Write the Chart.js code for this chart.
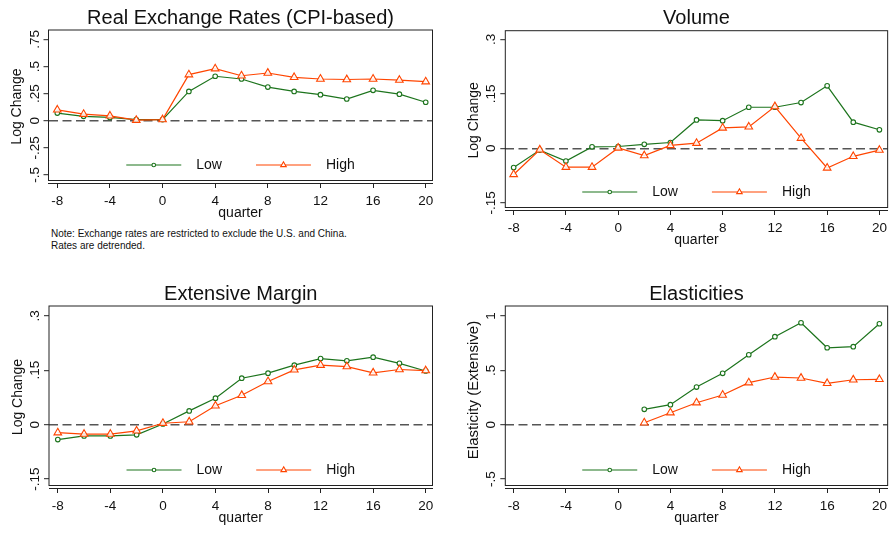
<!DOCTYPE html>
<html>
<head>
<meta charset="utf-8">
<script src="https://cdn.jsdelivr.net/npm/chart.js@4.4.1/dist/chart.umd.min.js"></script>
<style>
  html, body { margin: 0; padding: 0; background: #fff; }
  body { width: 892px; height: 533px; position: relative; overflow: hidden; font-family: 'Liberation Sans', Arial, sans-serif; }
  canvas { position: absolute; }
  #nota { position: absolute; left: 51px; top: 227.5px; font-size: 10px; line-height: 12px; color: #111; white-space: nowrap; }
</style>
</head>
<body>
<canvas id="cambio" style="left:0px;top:0px" width="446" height="226"></canvas>
<canvas id="volume" style="left:446px;top:0px" width="446" height="266"></canvas>
<canvas id="margem" style="left:0px;top:266px" width="446" height="267"></canvas>
<canvas id="elast" style="left:446px;top:266px" width="446" height="267"></canvas>
<div id="nota">Note: Exchange rates are restricted to exclude the U.S. and China.<br>Rates are detrended.</div>
<script>
// dados
const trimestres = [-8, -6, -4, -2, 0, 2, 4, 6, 8, 10, 12, 14, 16, 18, 20];
const ticksTrimestre = [-8, -4, 0, 4, 8, 12, 16, 20];

const cambioLow  = [0.07, 0.04, 0.03, 0.01, 0.01, 0.27, 0.41, 0.385, 0.31, 0.27, 0.24, 0.20, 0.28, 0.245, 0.17];
const cambioHigh = [0.10, 0.06, 0.045, 0.005, 0.01, 0.425, 0.48, 0.415, 0.44, 0.40, 0.385, 0.38, 0.385, 0.375, 0.36];
const cambioTicks = [-0.5, -0.25, 0, 0.25, 0.5, 0.75];
const cambioTickLabels = ['-.5', '-.25', '0', '.25', '.5', '.75'];

const volumeLow  = [-0.053, -0.005, -0.035, 0.004, 0.005, 0.011, 0.016, 0.078, 0.076, 0.113, 0.113, 0.126, 0.172, 0.072, 0.051];
const volumeHigh = [-0.072, -0.004, -0.052, -0.052, 0.001, -0.02, 0.008, 0.014, 0.056, 0.059, 0.115, 0.028, -0.054, -0.022, -0.005];
const volumeTicks = [-0.15, 0, 0.15, 0.3];
const volumeTickLabels = ['-.15', '0', '.15', '.3'];

const margemLow  = [-0.041, -0.031, -0.031, -0.028, 0.002, 0.038, 0.073, 0.128, 0.142, 0.164, 0.182, 0.176, 0.186, 0.169, 0.148];
const margemHigh = [-0.022, -0.026, -0.026, -0.017, 0.004, 0.008, 0.052, 0.081, 0.119, 0.151, 0.164, 0.16, 0.143, 0.152, 0.149];
const margemTicks = [-0.15, 0, 0.15, 0.3];
const margemTickLabels = ['-.15', '0', '.15', '.3'];

const elastLow  = [null, null, null, null, null, 0.141, 0.184, 0.346, 0.472, 0.643, 0.809, 0.937, 0.707, 0.717, 0.928];
const elastHigh = [null, null, null, null, null, 0.018, 0.11, 0.202, 0.273, 0.386, 0.438, 0.429, 0.38, 0.413, 0.417];
const elastTicks = [-0.5, 0, 0.5, 1];
const elastTickLabels = ['-.5', '0', '.5', '1'];

const verde = '#1d741d';
const laranja = '#ff4500';
const fonte = "'Liberation Sans', Arial, sans-serif";

Chart.defaults.font.family = fonte;
Chart.defaults.color = '#111';

function pontos(valores) {
  return trimestres.map((q, i) => ({ x: q, y: valores[i] }));
}

// caixa do grafico, rotulos verticais do eixo y e legenda dentro da area
const stataFrame = {
  id: 'stataFrame',
  afterDraw(chart, args, opts) {
    const ctx = chart.ctx;
    const a = chart.chartArea;
    const ys = chart.scales.y;
    const fundoCaixa = a.bottom - 2.5;
    ctx.save();
    ctx.strokeStyle = '#222';
    ctx.lineWidth = 1;
    ctx.strokeRect(a.left, a.top, a.right - a.left, fundoCaixa - a.top);

    ctx.fillStyle = '#111';
    ctx.font = '13.5px ' + fonte;
    ctx.textAlign = 'center';
    ctx.textBaseline = 'alphabetic';
    ys.ticks.forEach((t, i) => {
      const y = ys.getPixelForValue(t.value);
      ctx.save();
      ctx.translate(a.left - 10, y);
      ctx.rotate(-Math.PI / 2);
      ctx.fillText(opts.yLabels[i], 0, 0);
      ctx.restore();
    });

    ctx.font = (opts.yTitleSize || 14) + 'px ' + fonte;
    ctx.save();
    ctx.translate(a.left - 27.5, (a.top + a.bottom) / 2 + (opts.yTitleShift || 0));
    ctx.rotate(-Math.PI / 2);
    ctx.fillText(opts.yTitle, 0, 0);
    ctx.restore();

    // legenda
    ctx.font = '14px ' + fonte;
    const sets = chart.data.datasets;
    const larguras = sets.map(d => ctx.measureText(d.label).width);
    const amostra = 55, gapTexto = 15, gapItem = 34;
    let total = 0;
    larguras.forEach((w, i) => { total += amostra + gapTexto + w + (i < larguras.length - 1 ? gapItem : 0); });
    let x = (a.left + a.right) / 2 - total / 2;
    const y = fundoCaixa - 15.5;
    ctx.textAlign = 'left';
    ctx.textBaseline = 'middle';
    sets.forEach((d, i) => {
      ctx.strokeStyle = d.borderColor;
      ctx.lineWidth = 1.2;
      ctx.beginPath();
      ctx.moveTo(x, y);
      ctx.lineTo(x + amostra, y);
      ctx.stroke();
      const cx = x + amostra / 2;
      ctx.fillStyle = '#fff';
      ctx.lineWidth = 1.1;
      ctx.beginPath();
      if (d.pointStyle === 'triangle') {
        const r = 3.2;
        ctx.moveTo(cx, y - r);
        ctx.lineTo(cx + r * 0.866, y + r / 2);
        ctx.lineTo(cx - r * 0.866, y + r / 2);
        ctx.closePath();
      } else {
        ctx.arc(cx, y, 1.8, 0, Math.PI * 2);
      }
      ctx.fill();
      ctx.stroke();
      ctx.fillStyle = '#111';
      ctx.fillText(d.label, x + amostra + gapTexto, y + 0.5);
      x += amostra + gapTexto + larguras[i] + gapItem;
    });
    ctx.restore();
  }
};

function criaGrafico(cfg) {
  const canvas = document.getElementById(cfg.id);
  return new Chart(canvas, {
    type: 'line',
    data: {
      datasets: [{
        label: 'Low',
        data: pontos(cfg.low),
        borderColor: verde,
        backgroundColor: '#fff',
        borderWidth: 1.2,
        pointStyle: 'circle',
        pointRadius: 2.3,
        pointBorderWidth: 1.1,
        order: 1
      }, {
        label: 'High',
        data: pontos(cfg.high),
        borderColor: laranja,
        backgroundColor: 'rgba(255,255,255,0.85)',
        borderWidth: 1.2,
        pointStyle: 'triangle',
        pointRadius: 4.4,
        pointBorderWidth: 1.1,
        order: 0
      }]
    },
    options: {
      responsive: false,
      animation: false,
      layout: { autoPadding: false, padding: { left: 0, top: 0, right: cfg.padRight, bottom: cfg.padBottom } },
      plugins: {
        legend: { display: false },
        tooltip: { enabled: false },
        title: {
          display: true,
          text: cfg.title,
          fullSize: false,
          color: '#111',
          font: { size: 20, lineHeight: 1, weight: 'normal' },
          padding: { top: cfg.titleTop, bottom: 2 }
        },
        stataFrame: { yTitle: cfg.yTitle, yLabels: cfg.yLabels, yTitleShift: cfg.yTitleShift, yTitleSize: cfg.yTitleSize }
      },
      scales: {
        x: {
          type: 'linear',
          min: cfg.xMin,
          max: cfg.xMax,
          afterBuildTicks: s => { s.ticks = ticksTrimestre.map(v => ({ value: v })); },
          afterFit: s => { s.height = 39; },
          ticks: { font: { size: 13.5 }, color: '#111', padding: 5, maxRotation: 0, callback: v => String(v) },
          grid: { drawOnChartArea: false, drawTicks: true, tickLength: 5, tickColor: '#222', tickWidth: 1 },
          border: { display: true, color: '#222', width: 1 },
          title: { display: true, text: 'quarter', font: { size: 14 }, color: '#111', padding: 0 }
        },
        y: {
          type: 'linear',
          min: cfg.yMin,
          max: cfg.yMax,
          afterBuildTicks: s => { s.ticks = cfg.yTicks.map(v => ({ value: v })); },
          afterFit: s => { s.width = cfg.yAxisW; },
          ticks: { display: false },
          grid: {
            color: c => (c.tick && c.tick.value === 0) ? '#555' : 'rgba(0,0,0,0)',
            lineWidth: 1.4,
            drawTicks: true,
            tickLength: 5,
            tickColor: '#222',
            tickWidth: 1
          },
          border: { display: false, dash: [9, 4.5] }
        }
      }
    },
    plugins: [stataFrame]
  });
}

criaGrafico({ id: 'cambio', title: 'Real Exchange Rates (CPI-based)', yTitle: 'Log Change',
  low: cambioLow, high: cambioHigh, yTicks: cambioTicks, yLabels: cambioTickLabels,
  yMin: -0.575, yMax: 0.837, xMin: -8.669, xMax: 20.517,
  yAxisW: 48.5, padRight: 13.5, padBottom: 4, titleTop: 8 });

criaGrafico({ id: 'volume', title: 'Volume', yTitle: 'Log Change',
  low: volumeLow, high: volumeHigh, yTicks: volumeTicks, yLabels: volumeTickLabels,
  yMin: -0.1698, yMax: 0.3237, xMin: -8.639, xMax: 20.632,
  yAxisW: 59.3, padRight: 2, padBottom: 17, titleTop: 8.7 });

criaGrafico({ id: 'margem', title: 'Extensive Margin', yTitle: 'Log Change',
  low: margemLow, high: margemHigh, yTicks: margemTicks, yLabels: margemTickLabels,
  yMin: -0.1745, yMax: 0.327, xMin: -8.669, xMax: 20.517,
  yAxisW: 49, padRight: 13.5, padBottom: 6, titleTop: 18 });

criaGrafico({ id: 'elast', title: 'Elasticities', yTitle: 'Elasticity (Extensive)',
  low: elastLow, high: elastHigh, yTicks: elastTicks, yLabels: elastTickLabels,
  yMin: -0.582, yMax: 1.091, xMin: -8.639, xMax: 20.632,
  yAxisW: 59.3, padRight: 2, padBottom: 6, titleTop: 18, yTitleShift: -7, yTitleSize: 15 });
</script>
</body>
</html>
